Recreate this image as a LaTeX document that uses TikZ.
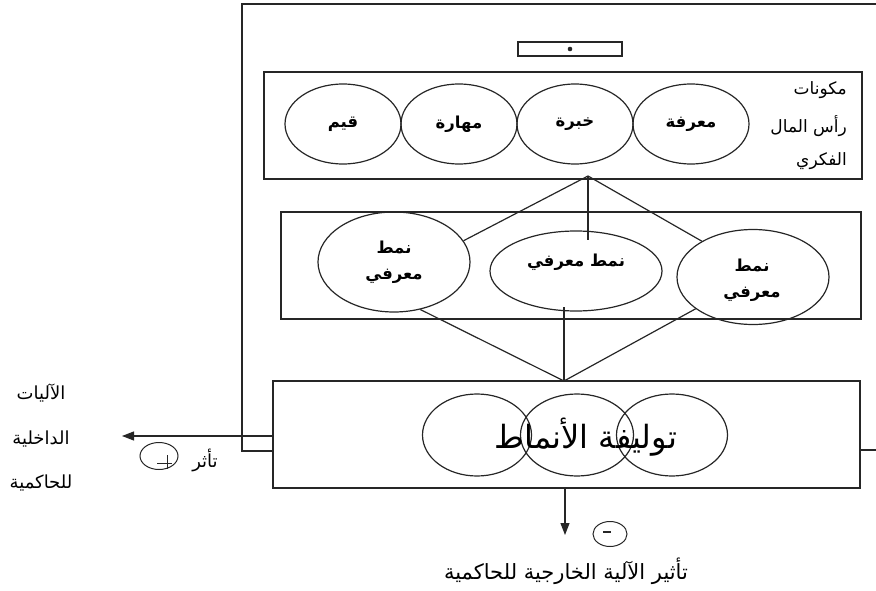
\documentclass[tikz,border=0pt]{standalone}
\usepackage{fontspec}
\TeXXeTstate=1
\newfontfamily\arfont[Script=Arabic]{DejaVu Sans}
\newcommand\rl[1]{\beginR #1\endR}
\usetikzlibrary{shapes.geometric,arrows.meta}
\begin{document}
\begin{tikzpicture}[x=1pt,y=-1pt,
  ink/.style={draw=black!85, line width=1.2pt},
  panel/.style={ink, rectangle, inner sep=0pt},
  oval/.style={ink, ellipse, inner sep=0pt},
  boldlbl/.style={font=\fontsize{16.5}{26}\selectfont\arfont\bfseries, align=center, inner sep=0pt},
  thin/.style={font=\fontsize{17}{19}\selectfont\arfont, inner sep=0pt},
  tip/.style={ink, -{Triangle[length=12pt,width=9pt]}}]
\useasboundingbox (0,0) rectangle (876,591);

% outer frame, open to the right
\coordinate (frl) at (242,451);
\coordinate (frr) at (876,450);
\coordinate (frt) at (876,4);

% small marker box
\node[panel, minimum width=104pt, minimum height=14pt] (mark) at (570,49) {};
\fill[black!85] (mark.center) circle (2.3pt);

% intellectual capital components
\node[panel, minimum width=598pt, minimum height=107pt] (comp) at (563,125.5) {};
\node[oval, minimum width=116pt, minimum height=80pt] (c1) at (343,124) {};
\node[oval, minimum width=116pt, minimum height=80pt] (c2) at (459,124) {};
\node[oval, minimum width=116pt, minimum height=80pt] (c3) at (575,124) {};
\node[oval, minimum width=116pt, minimum height=80pt] (c4) at (691,124) {};
\node[boldlbl] at (c1) {\rl{قيم}};
\node[boldlbl] at (c2) {\rl{مهارة}};
\node[boldlbl] at (c3) {\rl{خبرة}};
\node[boldlbl] at (c4) {\rl{معرفة}};
\node[thin, anchor=east] (t1) at (847,90) {\rl{مكونات}};
\node[thin, anchor=east] (t2) at (847,126) {\rl{رأس المال}};
\node[thin, anchor=east] (t3) at (847,161) {\rl{الفكري}};

% knowledge patterns
\node[panel, minimum width=580pt, minimum height=107pt] (pat) at (571,265.5) {};
\node[oval, minimum width=152pt, minimum height=100pt] (pL) at (394,262) {};
\node[oval, minimum width=172pt, minimum height=80pt] (pM) at (576,271) {};
\node[oval, minimum width=152pt, minimum height=95pt] (pR) at (753,277) {};
\node[boldlbl] at (394,262) {\rl{نمط}\\\rl{معرفي}};
\node[boldlbl] at (576,262) {\rl{نمط معرفي}};
\node[boldlbl] at (752,280) {\rl{نمط}\\\rl{معرفي}};

% combination of patterns
\node[panel, minimum width=587pt, minimum height=107pt] (mix) at (566.5,434.5) {};
\node[oval, minimum width=109pt, minimum height=82pt] (m1) at (477,435) {};
\node[oval, minimum width=113pt, minimum height=82pt] (m2) at (577,435) {};
\node[oval, minimum width=111pt, minimum height=82pt] (m3) at (672,435) {};
\node[font=\fontsize{32}{34}\selectfont\arfont, inner sep=0pt] (mixlbl) at (586,437) {\rl{توليفة الأنماط}};

\draw[ink] (frl -| mix.west) -- (frl) -- (frl |- frt) -- (frt);
\draw[ink] (frr -| mix.east) -- (frr);

% connectors between the levels
\coordinate (apex) at (588,176);
\coordinate (mtop) at (588,240);
\coordinate (mbot) at (564,307);
\coordinate (join) at (564,381);
\draw[ink] (apex) -- (pL.17);
\draw[ink] (apex) -- (mtop);
\draw[ink] (apex) -- (pR.145);
\draw[ink] (pL.-61) -- (join);
\draw[ink] (mbot) -- (join);
\draw[ink] (pR.209) -- (join);

% internal mechanisms (left)
\coordinate (lend) at (122,436);
\draw[tip] (lend -| mix.west) -- (lend);
\node[thin, font=\fontsize{18}{20}\selectfont\arfont] (in1) at (41,393) {\rl{الآليات}};
\node[thin, font=\fontsize{18}{20}\selectfont\arfont] (in2) at (41,439) {\rl{الداخلية}};
\node[thin, font=\fontsize{18}{20}\selectfont\arfont] (in3) at (41,483) {\rl{للحاكمية}};
\node[oval, line width=1pt, minimum width=38pt, minimum height=27pt] (plus) at (159,456) {};
\draw[ink, line width=1pt] (157,463) -- (172,463) (167,455) -- (167,469);
\node[thin, font=\fontsize{18}{20}\selectfont\arfont] (eff) at (205,460) {\rl{تأثر}};

% external mechanism (bottom)
\coordinate (dend) at (565,535);
\draw[tip] (dend |- mix.south) -- (dend);
\node[oval, line width=1pt, minimum width=34pt, minimum height=25pt] (minus) at (610,534) {};
\draw[black!85, line width=2.4pt] (603,532) -- (611,532);
\node[thin, font=\fontsize{21}{23}\selectfont\arfont] (ext) at (566,571) {\rl{تأثير الآلية الخارجية للحاكمية}};
\end{tikzpicture}
\end{document}
